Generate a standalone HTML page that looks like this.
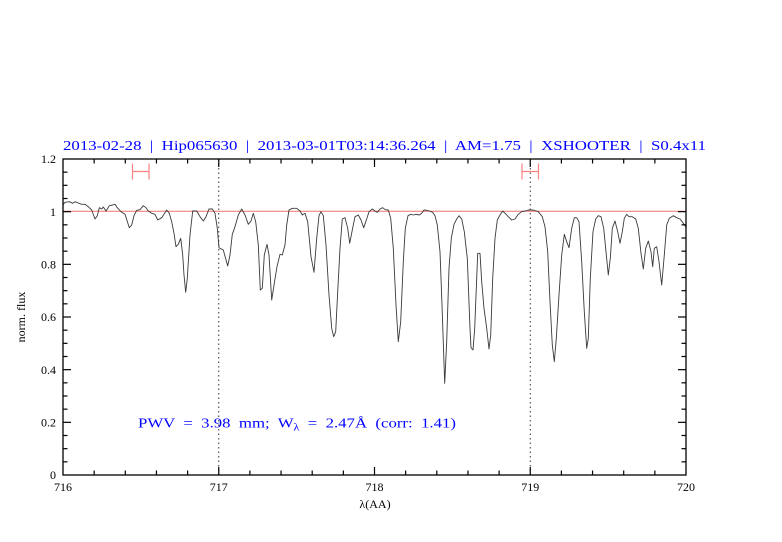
<!DOCTYPE html>
<html>
<head>
<meta charset="utf-8">
<style>
html,body{margin:0;padding:0;background:#fff;}
svg{display:block;}
text{font-family:"Liberation Serif","DejaVu Serif",serif;white-space:pre;}
</style>
</head>
<body>
<svg width="782" height="542" viewBox="0 0 782 542" xmlns="http://www.w3.org/2000/svg" xml:space="preserve">
<rect width="782" height="542" fill="#fff"/>

<!-- title -->
<text x="63" y="150" font-size="14" fill="#0000ff" textLength="643" lengthAdjust="spacingAndGlyphs">2013-02-28  |  Hip065630  |  2013-03-01T03:14:36.264  |  AM=1.75  |  XSHOOTER  |  S0.4x11</text>

<!-- 1.0 reference line -->
<line x1="63" y1="211.3" x2="686" y2="211.3" stroke="#f07070" stroke-width="1"/>

<!-- dotted verticals -->
<line x1="218.75" y1="159" x2="218.75" y2="475" stroke="#333" stroke-width="1" stroke-dasharray="1.5,3"/>
<line x1="530.25" y1="159" x2="530.25" y2="475" stroke="#333" stroke-width="1" stroke-dasharray="1.5,3"/>

<!-- red error bars -->
<g stroke="#ff8080" stroke-width="1.2" fill="none">
<line x1="132.5" y1="163.5" x2="132.5" y2="179.5"/>
<line x1="149" y1="163.5" x2="149" y2="179.5"/>
<line x1="132.5" y1="171.5" x2="149" y2="171.5"/>
<line x1="522" y1="163.5" x2="522" y2="179.5"/>
<line x1="538.5" y1="163.5" x2="538.5" y2="179.5"/>
<line x1="522" y1="171.5" x2="538.5" y2="171.5"/>
</g>

<!-- spectrum -->
<polyline fill="none" stroke="#3a3a3a" stroke-width="0.9" stroke-linejoin="round" points="63.3,204.3 65,202.3 69.3,201.7 72.7,203.3 75,201.7 78.3,203 81.7,204.3 85,204.3 88.3,206.7 91.7,210 95,219 97.3,215.7 99.3,207.7 101.7,209 103.3,207 106,211 109.3,205.7 112.7,205 115,204.3 117.3,207.7 121.7,212.3 125,214.3 129.3,227.7 131.7,225 134,215.7 136.7,210.3 140,209.7 143.3,205.7 146,207.7 148.3,211 151.7,213.3 155,214.3 157.7,220 161.7,217.7 164,214.3 166.7,210 169.3,213.3 171.7,221.7 174,233.3 176,246.7 178.3,244.3 180.7,238.3 182.7,255 184,275 185.7,292.3 187.3,278.3 190,235 192.7,211 196.7,211 200,216.7 203.3,221 206,216.7 209,209 212.3,209 215,213.3 217.3,228.3 219,247.7 220,248.3 223.3,250 227.7,266 230,255 232.3,234.3 235,226.7 238.3,215 241.7,209 245,215 248.3,224.3 251,221 253.3,213.3 255.7,221.7 258.3,245 260.3,290 262.3,288.3 264.3,255 267,244.3 269,255 271.7,300 274.3,283.3 277,266.7 280,254.3 282.3,255 285,245 286.7,225 289,210 292.3,208.3 296.7,208.3 300,211 302.3,215 305,213.3 307.7,221.7 311,256.7 314,272.3 316.7,238.3 319,215.7 321,211.7 323.3,215.7 326,245 329,295 331.7,328.3 333.7,336.7 335.7,331.7 337.7,291.7 340,248.3 342.3,219 345,217.7 347.7,228.3 349.7,243.3 352.3,230 355,216.7 358.3,215 361,220 363.7,227.7 366.7,219 369,211.7 372.3,209 375,211 377.3,212.3 380,209 382.7,207.7 385.3,209.7 388.3,210 390.7,218.3 393.3,248.3 396,305 398.3,341.7 400.7,321.7 403.3,261.7 405.3,228.3 408,215.7 410.7,214.3 413.3,215 416,214.3 419.3,215 421.7,213.3 424,210 426.7,210.3 429.3,211 432.7,212.3 435,215.7 437.3,225 440,251.7 442,305 444.7,383.3 446.7,341.7 449,268.3 451.3,238.3 454,224.3 456.7,219 459,215.7 461.7,219 464.3,231.7 467.3,258.3 470,328.3 471,347.7 473,350 474.7,328.3 476.7,278.3 477.7,253.3 480,253.3 481.7,281.7 484,308.3 486.7,328.3 489,349 490.7,335 492.7,278.3 495,238.3 497.3,220 500,215 502.7,211 505,213.3 508.3,216.7 511.7,220 515,219 518.3,214.3 521.7,211.7 525,211 528.3,210 533.3,210 538.3,211.7 542.3,216.7 545,226.7 547.7,251.7 550,301.7 552.3,345 554.3,361.7 556.3,338.3 559,295 561.7,255 564.3,234.3 566.7,241.7 569,247.7 571.7,228.3 574.3,217.7 576.7,217.7 579,221.7 581.7,261.7 584.3,311.7 586.7,348.3 588.3,338.3 590.3,278.3 593,231.7 595.7,219 598.3,215.7 601,216.7 603.7,228.3 606,251.7 608.3,275 610.3,258.3 612.3,228.3 615,221 617.7,231.7 620,243.3 622.3,231.7 624.3,218.3 626.7,214.3 629,216.7 632.3,216.7 635.7,219 638.3,228.3 641,253.3 643.3,269 645.7,248.3 648.3,241 651,251.7 652.7,266.7 654.3,248.3 656.7,246.7 659,261.7 661.7,285 664.3,255 666.7,225 669.3,218.3 673.3,215.7 676.7,217.7 680,219 683.3,223.3 686,227"/>

<!-- axes frame -->
<rect x="63" y="159" width="623" height="316" fill="none" stroke="#000" stroke-width="1.3"/>

<!-- ticks -->
<g stroke="#000" stroke-width="1.2">
<line x1="94.15" y1="475" x2="94.15" y2="470.5"/><line x1="94.15" y1="159" x2="94.15" y2="163.5"/>
<line x1="125.3" y1="475" x2="125.3" y2="470.5"/><line x1="125.3" y1="159" x2="125.3" y2="163.5"/>
<line x1="156.45" y1="475" x2="156.45" y2="470.5"/><line x1="156.45" y1="159" x2="156.45" y2="163.5"/>
<line x1="187.6" y1="475" x2="187.6" y2="470.5"/><line x1="187.6" y1="159" x2="187.6" y2="163.5"/>
<line x1="218.75" y1="475" x2="218.75" y2="467"/><line x1="218.75" y1="159" x2="218.75" y2="167"/>
<line x1="249.9" y1="475" x2="249.9" y2="470.5"/><line x1="249.9" y1="159" x2="249.9" y2="163.5"/>
<line x1="281.05" y1="475" x2="281.05" y2="470.5"/><line x1="281.05" y1="159" x2="281.05" y2="163.5"/>
<line x1="312.2" y1="475" x2="312.2" y2="470.5"/><line x1="312.2" y1="159" x2="312.2" y2="163.5"/>
<line x1="343.35" y1="475" x2="343.35" y2="470.5"/><line x1="343.35" y1="159" x2="343.35" y2="163.5"/>
<line x1="374.5" y1="475" x2="374.5" y2="467"/><line x1="374.5" y1="159" x2="374.5" y2="167"/>
<line x1="405.65" y1="475" x2="405.65" y2="470.5"/><line x1="405.65" y1="159" x2="405.65" y2="163.5"/>
<line x1="436.8" y1="475" x2="436.8" y2="470.5"/><line x1="436.8" y1="159" x2="436.8" y2="163.5"/>
<line x1="467.95" y1="475" x2="467.95" y2="470.5"/><line x1="467.95" y1="159" x2="467.95" y2="163.5"/>
<line x1="499.1" y1="475" x2="499.1" y2="470.5"/><line x1="499.1" y1="159" x2="499.1" y2="163.5"/>
<line x1="530.25" y1="475" x2="530.25" y2="467"/><line x1="530.25" y1="159" x2="530.25" y2="167"/>
<line x1="561.4" y1="475" x2="561.4" y2="470.5"/><line x1="561.4" y1="159" x2="561.4" y2="163.5"/>
<line x1="592.55" y1="475" x2="592.55" y2="470.5"/><line x1="592.55" y1="159" x2="592.55" y2="163.5"/>
<line x1="623.7" y1="475" x2="623.7" y2="470.5"/><line x1="623.7" y1="159" x2="623.7" y2="163.5"/>
<line x1="654.85" y1="475" x2="654.85" y2="470.5"/><line x1="654.85" y1="159" x2="654.85" y2="163.5"/>
<line x1="63" y1="461.83" x2="67.5" y2="461.83"/><line x1="686" y1="461.83" x2="681.5" y2="461.83"/>
<line x1="63" y1="448.67" x2="67.5" y2="448.67"/><line x1="686" y1="448.67" x2="681.5" y2="448.67"/>
<line x1="63" y1="435.5" x2="67.5" y2="435.5"/><line x1="686" y1="435.5" x2="681.5" y2="435.5"/>
<line x1="63" y1="422.33" x2="71" y2="422.33"/><line x1="686" y1="422.33" x2="678" y2="422.33"/>
<line x1="63" y1="409.17" x2="67.5" y2="409.17"/><line x1="686" y1="409.17" x2="681.5" y2="409.17"/>
<line x1="63" y1="396" x2="67.5" y2="396"/><line x1="686" y1="396" x2="681.5" y2="396"/>
<line x1="63" y1="382.83" x2="67.5" y2="382.83"/><line x1="686" y1="382.83" x2="681.5" y2="382.83"/>
<line x1="63" y1="369.67" x2="71" y2="369.67"/><line x1="686" y1="369.67" x2="678" y2="369.67"/>
<line x1="63" y1="356.5" x2="67.5" y2="356.5"/><line x1="686" y1="356.5" x2="681.5" y2="356.5"/>
<line x1="63" y1="343.33" x2="67.5" y2="343.33"/><line x1="686" y1="343.33" x2="681.5" y2="343.33"/>
<line x1="63" y1="330.17" x2="67.5" y2="330.17"/><line x1="686" y1="330.17" x2="681.5" y2="330.17"/>
<line x1="63" y1="317" x2="71" y2="317"/><line x1="686" y1="317" x2="678" y2="317"/>
<line x1="63" y1="303.83" x2="67.5" y2="303.83"/><line x1="686" y1="303.83" x2="681.5" y2="303.83"/>
<line x1="63" y1="290.67" x2="67.5" y2="290.67"/><line x1="686" y1="290.67" x2="681.5" y2="290.67"/>
<line x1="63" y1="277.5" x2="67.5" y2="277.5"/><line x1="686" y1="277.5" x2="681.5" y2="277.5"/>
<line x1="63" y1="264.33" x2="71" y2="264.33"/><line x1="686" y1="264.33" x2="678" y2="264.33"/>
<line x1="63" y1="251.17" x2="67.5" y2="251.17"/><line x1="686" y1="251.17" x2="681.5" y2="251.17"/>
<line x1="63" y1="238" x2="67.5" y2="238"/><line x1="686" y1="238" x2="681.5" y2="238"/>
<line x1="63" y1="224.83" x2="67.5" y2="224.83"/><line x1="686" y1="224.83" x2="681.5" y2="224.83"/>
<line x1="63" y1="211.67" x2="71" y2="211.67"/><line x1="686" y1="211.67" x2="678" y2="211.67"/>
<line x1="63" y1="198.5" x2="67.5" y2="198.5"/><line x1="686" y1="198.5" x2="681.5" y2="198.5"/>
<line x1="63" y1="185.33" x2="67.5" y2="185.33"/><line x1="686" y1="185.33" x2="681.5" y2="185.33"/>
<line x1="63" y1="172.17" x2="67.5" y2="172.17"/><line x1="686" y1="172.17" x2="681.5" y2="172.17"/>
</g>

<!-- y tick labels -->
<g font-size="12" fill="#000" text-anchor="end">
<text x="56" y="479">0</text>
<text x="56" y="426.5">0.2</text>
<text x="56" y="373.8">0.4</text>
<text x="56" y="321">0.6</text>
<text x="56" y="268.5">0.8</text>
<text x="56" y="215.8">1</text>
<text x="56" y="163">1.2</text>
</g>

<!-- x tick labels -->
<g font-size="12" fill="#000" text-anchor="middle">
<text x="63" y="491">716</text>
<text x="218.75" y="491">717</text>
<text x="374.5" y="491">718</text>
<text x="530.25" y="491">719</text>
<text x="686" y="491">720</text>
</g>

<!-- axis labels -->
<text x="375" y="508" font-size="12" fill="#000" text-anchor="middle">λ(AA)</text>
<text transform="translate(25,317) rotate(-90)" font-size="12" fill="#000" text-anchor="middle">norm. flux</text>

<!-- annotation -->
<text x="138" y="427.5" font-size="14" fill="#0000ff" textLength="318" lengthAdjust="spacingAndGlyphs">PWV  =  3.98  mm;  W<tspan font-size="10" dy="3">λ</tspan><tspan dy="-3">  =  2.47Å  (corr:  1.41)</tspan></text>
</svg>
</body>
</html>
